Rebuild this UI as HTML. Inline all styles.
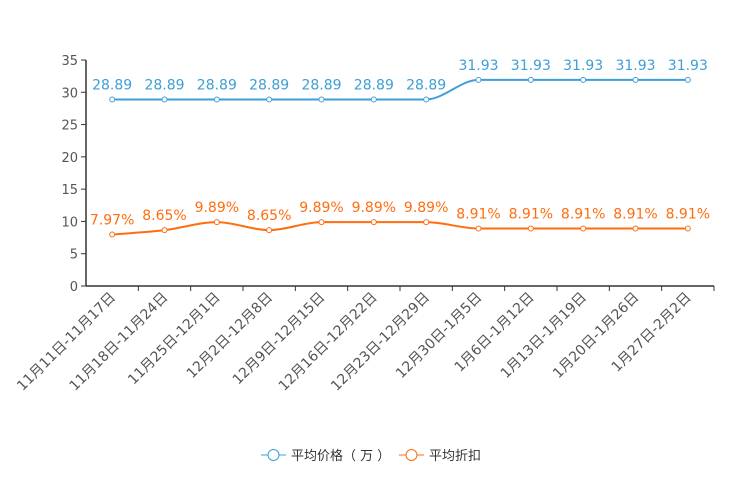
<!DOCTYPE html>
<html><head><meta charset="utf-8">
<style>
html,body{margin:0;padding:0;background:#fff;}
svg{display:block;font-family:"DejaVu Sans","Noto Sans CJK SC",sans-serif;}
</style></head>
<body>
<svg id="chart" width="744" height="496"></svg>
<script>
const categories=["11月11日-11月17日","11月18日-11月24日","11月25日-12月1日","12月2日-12月8日","12月9日-12月15日","12月16日-12月22日","12月23日-12月29日","12月30日-1月5日","1月6日-1月12日","1月13日-1月19日","1月20日-1月26日","1月27日-2月2日"];
const priceValues=[28.89,28.89,28.89,28.89,28.89,28.89,28.89,31.93,31.93,31.93,31.93,31.93];
const discountValues=[7.97,8.65,9.89,8.65,9.89,9.89,9.89,8.91,8.91,8.91,8.91,8.91];
const yTicks=[0,5,10,15,20,25,30,35];
const seriesNames=["平均价格（ 万 ）","平均折扣"];

const NS="http://www.w3.org/2000/svg";
const svg=document.getElementById('chart');
const L=86,R=714,T=60,B=286,yMax=35;
const band=(R-L)/categories.length;
const x=i=>L+band*(i+0.5);
const y=v=>B-(v/yMax)*(B-T);
function mk(tag,attrs,parent){const e=document.createElementNS(NS,tag);for(const k in attrs)e.setAttribute(k,attrs[k]);(parent||svg).appendChild(e);return e;}

const axes=mk('g',{});


mk('line',{x1:L,y1:T,x2:L,y2:B,stroke:'#333','stroke-width':1.5},axes);
mk('line',{x1:L,y1:B,x2:R,y2:B,stroke:'#333','stroke-width':1.5},axes);
yTicks.forEach(t=>{
  mk('line',{x1:L-5,y1:y(t),x2:L,y2:y(t),stroke:'#333'},axes);
  const tx=mk('text',{x:L-8,y:y(t)+5,'text-anchor':'end','font-size':13,fill:'#555'},axes);
  tx.textContent=t;
  
  
});
categories.forEach((c,i)=>{
  mk('line',{x1:L+band*(i+1),y1:B,x2:L+band*(i+1),y2:B+5,stroke:'#333'},axes);
  const tx=mk('text',{x:x(i)+4,y:B+12,'text-anchor':'end','font-size':14,fill:'#555',transform:`rotate(-45 ${x(i)+4} ${B+12})`},axes);
  tx.textContent=c;
  
  
});

function smoothPath(pts){
  const n=pts.length;const d=[],m=[];
  for(let i=0;i<n-1;i++)d.push((pts[i+1][1]-pts[i][1])/(pts[i+1][0]-pts[i][0]));
  m[0]=d[0];m[n-1]=d[n-2];
  for(let i=1;i<n-1;i++)m[i]=(d[i-1]*d[i]<=0)?0:(d[i-1]+d[i])/2;
  let p=`M${pts[0][0]},${pts[0][1]}`;
  for(let i=0;i<n-1;i++){const h=(pts[i+1][0]-pts[i][0])/3;
    p+=` C${pts[i][0]+h},${pts[i][1]+m[i]*h} ${pts[i+1][0]-h},${pts[i+1][1]-m[i+1]*h} ${pts[i+1][0]},${pts[i+1][1]}`;}
  return p;
}
function drawSeries(vals,color,name,fmt){
  const g=mk('g',{});
  
  
  const pts=vals.map((v,i)=>[x(i),y(v)]);
  mk('path',{d:smoothPath(pts),fill:'none',stroke:color,'stroke-width':2},g);
  pts.forEach((p,i)=>{
    const c=mk('circle',{cx:p[0],cy:p[1],r:2.5,fill:'#fff',stroke:color,'stroke-width':1},g);
    
    
    const t=mk('text',{x:p[0],y:p[1]-10,'text-anchor':'middle','font-size':14,fill:color},g);
    t.textContent=fmt(vals[i]);
    
    
  });
}
drawSeries(priceValues,'#3d9fd6','price-series',v=>v.toFixed(2));
drawSeries(discountValues,'#ff6d0f','discount-series',v=>v.toFixed(2)+'%');

const colors=['#3d9fd6','#ff6d0f'];
let lx=261;
seriesNames.forEach((n,i)=>{
  const g=mk('g',{});
  
  
  mk('line',{x1:lx,y1:455,x2:lx+25,y2:455,stroke:colors[i],'stroke-width':1},g);
  mk('circle',{cx:lx+12.5,cy:455,r:5.5,fill:'#fff',stroke:colors[i],'stroke-width':1},g);
  const t=mk('text',{x:lx+30,y:460,'font-size':13,fill:'#333'},g);
  t.textContent=n;
  lx+= i===0?138:0;
});
</script>
</body></html>
